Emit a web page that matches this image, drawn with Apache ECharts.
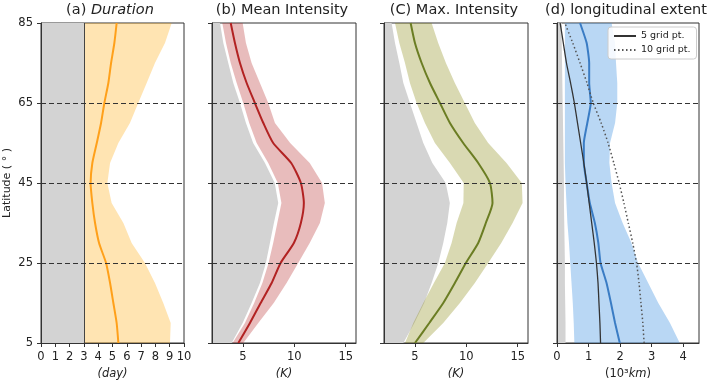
<!DOCTYPE html>
<html><head><meta charset="utf-8">
<script src="https://cdn.jsdelivr.net/npm/echarts@6/dist/echarts.min.js"></script>
<style>html,body{margin:0;padding:0;background:#fff}#c{width:709px;height:381px}</style>
</head><body><div id="c"></div>
<script>
// Latitudes (deg) at which every profile is sampled
const lat = [5,10,15,20,25,30,35,40,45,50,55,60,65,70,75,80,85];

// (a) Duration (day)
const durBase = 3;
const durMean = [5.41,5.29,5.06,4.83,4.55,4.06,3.78,3.59,3.47,3.59,3.9,4.2,4.43,4.71,4.9,5.13,5.29];
const durHigh = [9.02,9.07,8.55,7.97,7.27,6.34,5.76,4.94,4.64,4.83,5.41,6.22,6.8,7.39,7.97,8.67,9.14];

// (b) Mean intensity (K)
const mGray = [3.91,4.98,5.85,6.66,7.24,7.63,8.02,8.44,8.1,7.15,6.0,5.3,4.72,4.07,3.58,3.1,2.78];
const mLow  = [4.0,5.2,6.1,6.9,7.5,7.95,8.35,8.75,8.4,7.47,6.34,5.62,5.04,4.4,3.82,3.36,3.0];
const mHigh = [5.04,6.5,8.0,9.25,10.38,11.5,12.49,12.97,12.7,11.5,9.6,8.12,7.47,6.66,5.85,5.3,4.98];
const mMean = [4.56,5.69,6.73,7.8,8.67,9.96,10.64,10.93,10.64,9.7,7.95,6.99,6.17,5.37,4.72,4.23,3.82];

// (c) Max intensity (K)
const cGray = [3.88,4.95,5.9,6.63,7.28,7.76,8.15,8.4,8.0,6.7,5.82,5.17,4.52,3.88,3.49,3.07,2.74];
const cLow  = [4.04,4.85,5.82,6.85,7.92,8.57,9.06,9.72,9.75,8.41,6.95,5.98,5.17,4.52,4.04,3.49,3.07];
const cHigh = [5.82,7.76,9.38,10.83,12.13,13.4,14.5,15.47,15.4,13.91,12.13,10.83,9.86,8.89,8.02,7.27,6.63];
const cMean = [5.01,6.4,7.76,8.89,9.96,11.16,11.9,12.55,12.3,11.16,9.7,8.41,7.44,6.47,5.66,5.01,4.59];

// (d) Longitudinal extent (10^3 km)
const dGray = [0.27,0.27,0.26,0.25,0.25,0.24,0.23,0.22,0.22,0.21,0.2,0.19,0.18,0.17,0.16,0.15,0.15];
const dLow  = [0.55,0.53,0.5,0.46,0.42,0.38,0.33,0.3,0.27,0.25,0.25,0.25,0.25,0.25,0.25,0.25,0.25];
const dHigh = [3.89,3.58,3.21,2.89,2.57,2.36,2.08,1.84,1.73,1.66,1.68,1.84,1.91,1.91,1.87,1.84,1.73];
const dMean = [1.99,1.84,1.71,1.57,1.38,1.31,1.2,1.04,0.94,0.85,0.85,0.96,1.07,1.02,1.02,0.94,0.73];
const d5grid  = [1.38,1.36,1.33,1.3,1.25,1.18,1.1,1.02,0.94,0.85,0.75,0.65,0.55,0.43,0.3,0.2,0.1];
const d10grid = [2.76,2.72,2.66,2.6,2.52,2.4,2.26,2.12,1.97,1.8,1.62,1.4,1.15,0.95,0.73,0.5,0.25];

// Axis ticks
const latTicks = [5,25,45,65,85];
const refLats = [25,45,65];
const dayTicks = [0,1,2,3,4,5,6,7,8,9,10];
const kTicks = [5,10,15];
const kmTicks = [0,1,2,3,4];

const FONT = 'DejaVu Sans';
const INK = '#222';
const SPINE = '#333';

const chart = echarts.init(document.getElementById('c'), null, {renderer: 'canvas'});

const gridPos = [[41,143],[212,144],[384,144],[557,142]];
const grid = gridPos.map(p => ({
  left: p[0], width: p[1], top: 23, height: 320,
  show: true, borderColor: SPINE, borderWidth: 1, backgroundColor: 'transparent',
  containLabel: false, outerBoundsMode: 'none'
}));

const val = v => (typeof v === 'number' ? () => v : i => v[i]);

function poly(g, left, right, fill, z) {
  const L = val(left), R = val(right);
  return {
    type: 'custom', xAxisIndex: g, yAxisIndex: g, z: z, silent: true,
    data: [[R(0), lat[0]]],
    encode: {x: 0, y: 1},
    renderItem: function (params, api) {
      const pts = [];
      for (let i = 0; i < lat.length; i++) pts.push(api.coord([R(i), lat[i]]));
      for (let i = lat.length - 1; i >= 0; i--) pts.push(api.coord([L(i), lat[i]]));
      return {type: 'polygon', shape: {points: pts}, style: {fill: fill}};
    }
  };
}

function line(g, xs, color, width, extra) {
  return Object.assign({
    type: 'line', xAxisIndex: g, yAxisIndex: g, z: 3, silent: true,
    data: lat.map((l, i) => [xs[i], l]),
    symbol: 'none', smooth: 0.2,
    lineStyle: {color: color, width: width},
    itemStyle: {color: color}
  }, extra || {});
}

function refLines(extraData) {
  return {
    silent: true, symbol: 'none', animation: false,
    label: {show: false},
    lineStyle: {type: [5, 3], color: SPINE, width: 1},
    emphasis: {disabled: true},
    data: (extraData || []).concat(refLats.map(v => ({yAxis: v})))
  };
}

const yAxis = [0,1,2,3].map(i => ({
  type: 'value', gridIndex: i, min: 5, max: 85, interval: 20, z: 5,
  axisLine: {show: true, lineStyle: {color: SPINE, width: 1}},
  axisTick: {show: true, length: 4, lineStyle: {color: SPINE}, customValues: latTicks},
  axisLabel: {show: i === 0, fontSize: 11.5, color: INK, fontFamily: FONT, margin: 8, customValues: latTicks},
  splitLine: {show: false},
  name: i === 0 ? 'Latitude ( ° )' : '',
  nameLocation: 'middle', nameGap: 28,
  nameTextStyle: {fontSize: 11, color: INK, fontFamily: FONT}
}));

function xAx(i, min, max, ticks, name, rich) {
  return {
    type: 'value', gridIndex: i, min: min, max: max, z: 5,
    axisLine: {show: true, onZero: false, lineStyle: {color: SPINE, width: 1}},
    axisTick: {show: true, length: 4, lineStyle: {color: SPINE}, customValues: ticks},
    axisLabel: {fontSize: 11.5, color: INK, fontFamily: FONT, margin: 8, customValues: ticks},
    splitLine: {show: false},
    name: name, nameLocation: 'middle', nameGap: 23,
    nameTextStyle: {fontSize: 11.5, color: INK, fontFamily: FONT, fontStyle: rich ? 'normal' : 'italic', rich: rich || {}}
  };
}

const xAxis = [
  xAx(0, 0, 10, dayTicks, '(day)'),
  xAx(1, 2, 16, kTicks, '(K)'),
  xAx(2, 2, 16, kTicks, '(K)'),
  xAx(3, 0, 4.5, kmTicks, '{n|(10³}{i|km}{n|)}', {
    n: {fontSize: 11.5, color: INK, fontFamily: FONT},
    i: {fontSize: 11.5, color: INK, fontFamily: FONT, fontStyle: 'italic'}
  })
];

const GRAY = '#d3d3d3';

const series = [
  // (a)
  poly(0, 0, durBase, GRAY, 1),
  poly(0, durBase, durHigh, 'rgba(255,165,0,0.30)', 2),
  line(0, durMean, '#ffa01a', 2, {markLine: refLines([{xAxis: durBase, lineStyle: {type: 'solid', color: '#444', width: 1}}])}),
  // (b)
  poly(1, 2, mGray, GRAY, 1),
  poly(1, mLow, mHigh, 'rgba(178,34,34,0.30)', 2),
  line(1, mMean, '#b22222', 2, {markLine: refLines()}),
  // (c)
  poly(2, 2, cGray, GRAY, 1),
  poly(2, cLow, cHigh, 'rgba(128,128,0,0.30)', 2),
  line(2, cMean, '#6b7d23', 2, {markLine: refLines()}),
  // (d)
  poly(3, 0, dGray, GRAY, 1),
  poly(3, dLow, dHigh, 'rgba(70,150,225,0.38)', 2),
  line(3, dMean, '#3a7cc4', 2, {markLine: refLines(), smooth: 0.15}),
  line(3, d5grid, '#333333', 1.3, {name: '5 grid pt.', smooth: 0.2}),
  line(3, d10grid, '#555555', 1.5, {name: '10 grid pt.', smooth: 0.2, lineStyle: {color: '#555555', width: 1.5, type: [1.5, 2.5]}})
];

function title(x, text) {
  return {
    type: 'text', x: x, y: 10, silent: true,
    style: {
      text: text, textAlign: 'center', verticalAlign: 'middle',
      fontSize: 14.5, fontFamily: FONT, fill: INK,
      rich: {i: {fontSize: 14.5, fontFamily: FONT, fontStyle: 'italic', fill: INK}}
    }
  };
}

chart.setOption({
  animation: false,
  backgroundColor: '#fff',
  grid: grid, xAxis: xAxis, yAxis: yAxis, series: series,
  legend: {
    data: ['5 grid pt.', '10 grid pt.'],
    orient: 'vertical', left: 608, top: 27,
    itemWidth: 22, itemHeight: 10, itemGap: 4,
    padding: [4, 6, 4, 5],
    backgroundColor: 'rgba(255,255,255,0.85)',
    borderColor: '#cccccc', borderWidth: 1, borderRadius: 3,
    itemStyle: {opacity: 0},
    textStyle: {fontSize: 9.5, fontFamily: FONT, color: INK},
    selectedMode: false
  },
  graphic: [
    title(110, '(a) {i|Duration}'),
    title(282, '(b) Mean Intensity'),
    title(454, '(C) Max. Intensity'),
    title(626, '(d) longitudinal extent')
  ]
});
</script>
</body></html>
